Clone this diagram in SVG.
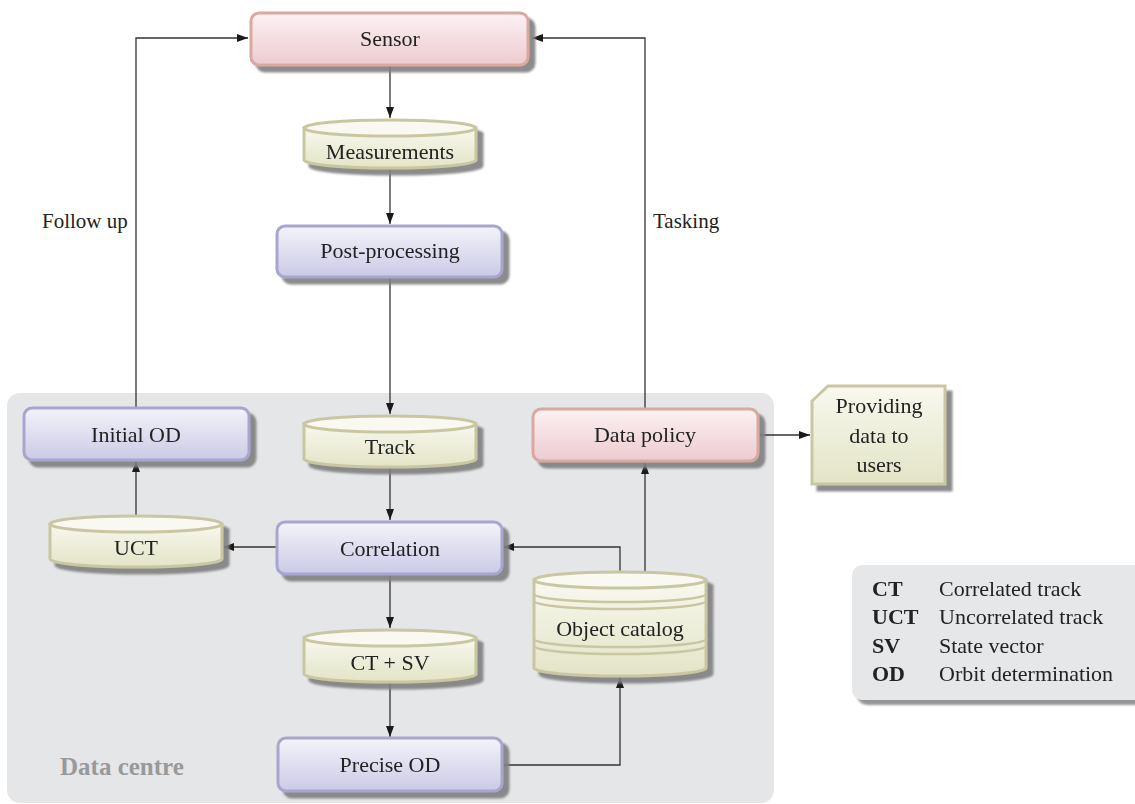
<svg xmlns="http://www.w3.org/2000/svg" width="1135" height="804" viewBox="0 0 1135 804">
<defs>
<linearGradient id="gPurple" x1="0" y1="0" x2="0" y2="1"><stop offset="0" stop-color="#f3f3fa"/><stop offset="1" stop-color="#cbcae6"/></linearGradient>
<linearGradient id="gPink" x1="0" y1="0" x2="0" y2="1"><stop offset="0" stop-color="#fcf1f3"/><stop offset="1" stop-color="#eccbd0"/></linearGradient>
<linearGradient id="gCyl" x1="0" y1="0" x2="0" y2="1"><stop offset="0" stop-color="#f8f8ef"/><stop offset="1" stop-color="#e3e4c6"/></linearGradient>
<filter id="sh" x="-10%" y="-20%" width="130%" height="150%"><feDropShadow dx="6" dy="6" stdDeviation="1" flood-color="#7f7f7f" flood-opacity="0.9"/></filter>
<filter id="shL" x="-10%" y="-20%" width="130%" height="150%"><feDropShadow dx="5" dy="5" stdDeviation="1" flood-color="#8a8a8a" flood-opacity="0.9"/></filter>
<marker id="ah" viewBox="0 0 11 8" refX="11" refY="4" markerWidth="11" markerHeight="8" markerUnits="userSpaceOnUse" orient="auto"><path d="M0,0 L11,4 L0,8 Z" fill="#1a1a1a"/></marker>
</defs>
<style>
text{font-family:"Liberation Serif","Times New Roman",serif;font-size:22px;fill:#222;}
.c{text-anchor:middle;}
.box{fill:url(#gPurple);stroke:#a8a5cf;stroke-width:3;}
.pink{fill:url(#gPink);stroke:#d9a9a0;stroke-width:3;}
.cyl{fill:url(#gCyl);stroke:#c9c7a2;stroke-width:3;}
.top{fill:#f9f9f1;stroke:#c9c7a2;stroke-width:3;}
.band{fill:none;stroke:#c9c7a2;stroke-width:2.5;}
.ln{fill:none;stroke:#333;stroke-width:1.3;marker-end:url(#ah);}
.lbl{font-size:21px;}
.b{font-weight:bold;}
</style>
<rect x="7" y="393" width="767" height="410" rx="13" fill="#e5e6e8"/>
<text x="60" y="775" class="b" style="font-size:25px;fill:#98999b">Data centre</text>

<g id="connectors">
<path class="ln" d="M390,65 V118"/>
<path class="ln" d="M390,170 V224"/>
<path class="ln" d="M390,278 V414"/>
<path class="ln" d="M390,467 V520"/>
<path class="ln" d="M390,574 V628"/>
<path class="ln" d="M390,682 V737"/>
<path class="ln" d="M277,547 H223"/>
<path class="ln" d="M136,516 V461"/>
<path class="ln" d="M136,407 V38 H248"/>
<path class="ln" d="M645,408 V38 H532"/>
<path class="ln" d="M759,435 H810"/>
<path class="ln" d="M620,572 V547 H503"/>
<path class="ln" d="M645,572 V463"/>
<path class="ln" d="M503,765 H620 V677"/>
</g>
<text x="42" y="228" class="lbl">Follow up</text>
<text x="653" y="228" class="lbl">Tasking</text>

<g id="sensor" filter="url(#sh)"><rect class="pink" x="251" y="13" width="277" height="52" rx="8"/><text x="390" y="46" class="c">Sensor</text></g>

<g id="measurements" filter="url(#sh)">
<path class="cyl" d="M304,128 V160 A86,8 0 0 0 476,160 V128 Z"/>
<ellipse class="top" cx="390" cy="128" rx="86" ry="8"/>
<text x="390" y="159" class="c">Measurements</text></g>

<g id="postprocessing" filter="url(#sh)"><rect class="box" x="277" y="226" width="225" height="51" rx="8"/><text x="390" y="258" class="c">Post-processing</text></g>

<g id="track" filter="url(#sh)">
<path class="cyl" d="M304,424 V459 A86,8 0 0 0 476,459 V424 Z"/>
<ellipse class="top" cx="390" cy="424" rx="86" ry="8"/>
<text x="390" y="454" class="c">Track</text></g>

<g id="initialOD" filter="url(#sh)"><rect class="box" x="24" y="408" width="225" height="52" rx="8"/><text x="136" y="442" class="c">Initial OD</text></g>

<g id="datapolicy" filter="url(#sh)"><rect class="pink" x="533" y="409" width="225" height="52" rx="8"/><text x="645" y="442" class="c">Data policy</text></g>

<g id="providing" filter="url(#sh)"><path d="M812,401 L828,386 H945 V484 H812 Z" fill="url(#gCyl)" stroke="#c9c7a2" stroke-width="3"/>
<text x="879" y="413" class="c">Providing</text><text x="879" y="443" class="c">data to</text><text x="879" y="472" class="c">users</text></g>

<g id="uct" filter="url(#sh)">
<path class="cyl" d="M50,524 V559 A86,8 0 0 0 222,559 V524 Z"/>
<ellipse class="top" cx="136" cy="524" rx="86" ry="8"/>
<text x="136" y="555" class="c">UCT</text></g>

<g id="correlation" filter="url(#sh)"><rect class="box" x="277" y="522" width="225" height="52" rx="8"/><text x="390" y="556" class="c">Correlation</text></g>

<g id="catalog" filter="url(#sh)">
<path class="cyl" d="M534,580 V668 A86,8 0 0 0 706,668 V580 Z"/>
<ellipse class="top" cx="620" cy="580" rx="86" ry="8"/>
<path class="band" d="M534,594 A86,8 0 0 0 706,594"/>
<path class="band" d="M534,601 A86,8 0 0 0 706,601"/>
<path class="band" d="M534,639 A86,8 0 0 0 706,639"/>
<path class="band" d="M534,646 A86,8 0 0 0 706,646"/>
<text x="620" y="636" class="c">Object catalog</text></g>

<g id="ctsv" filter="url(#sh)">
<path class="cyl" d="M304,638 V674 A86,8 0 0 0 476,674 V638 Z"/>
<ellipse class="top" cx="390" cy="638" rx="86" ry="8"/>
<text x="390" y="670" class="c">CT + SV</text></g>

<g id="preciseOD" filter="url(#sh)"><rect class="box" x="278" y="738" width="224" height="53" rx="8"/><text x="390" y="772" class="c">Precise OD</text></g>

<g id="legend" filter="url(#shL)">
<rect x="852" y="565" width="300" height="135" rx="10" fill="#e6e7e9"/>
<text x="872" y="596" class="b">CT</text><text x="939" y="596">Correlated track</text>
<text x="872" y="624" class="b">UCT</text><text x="939" y="624">Uncorrelated track</text>
<text x="872" y="653" class="b">SV</text><text x="939" y="653">State vector</text>
<text x="872" y="681" class="b">OD</text><text x="939" y="681">Orbit determination</text>
</g>
</svg>
